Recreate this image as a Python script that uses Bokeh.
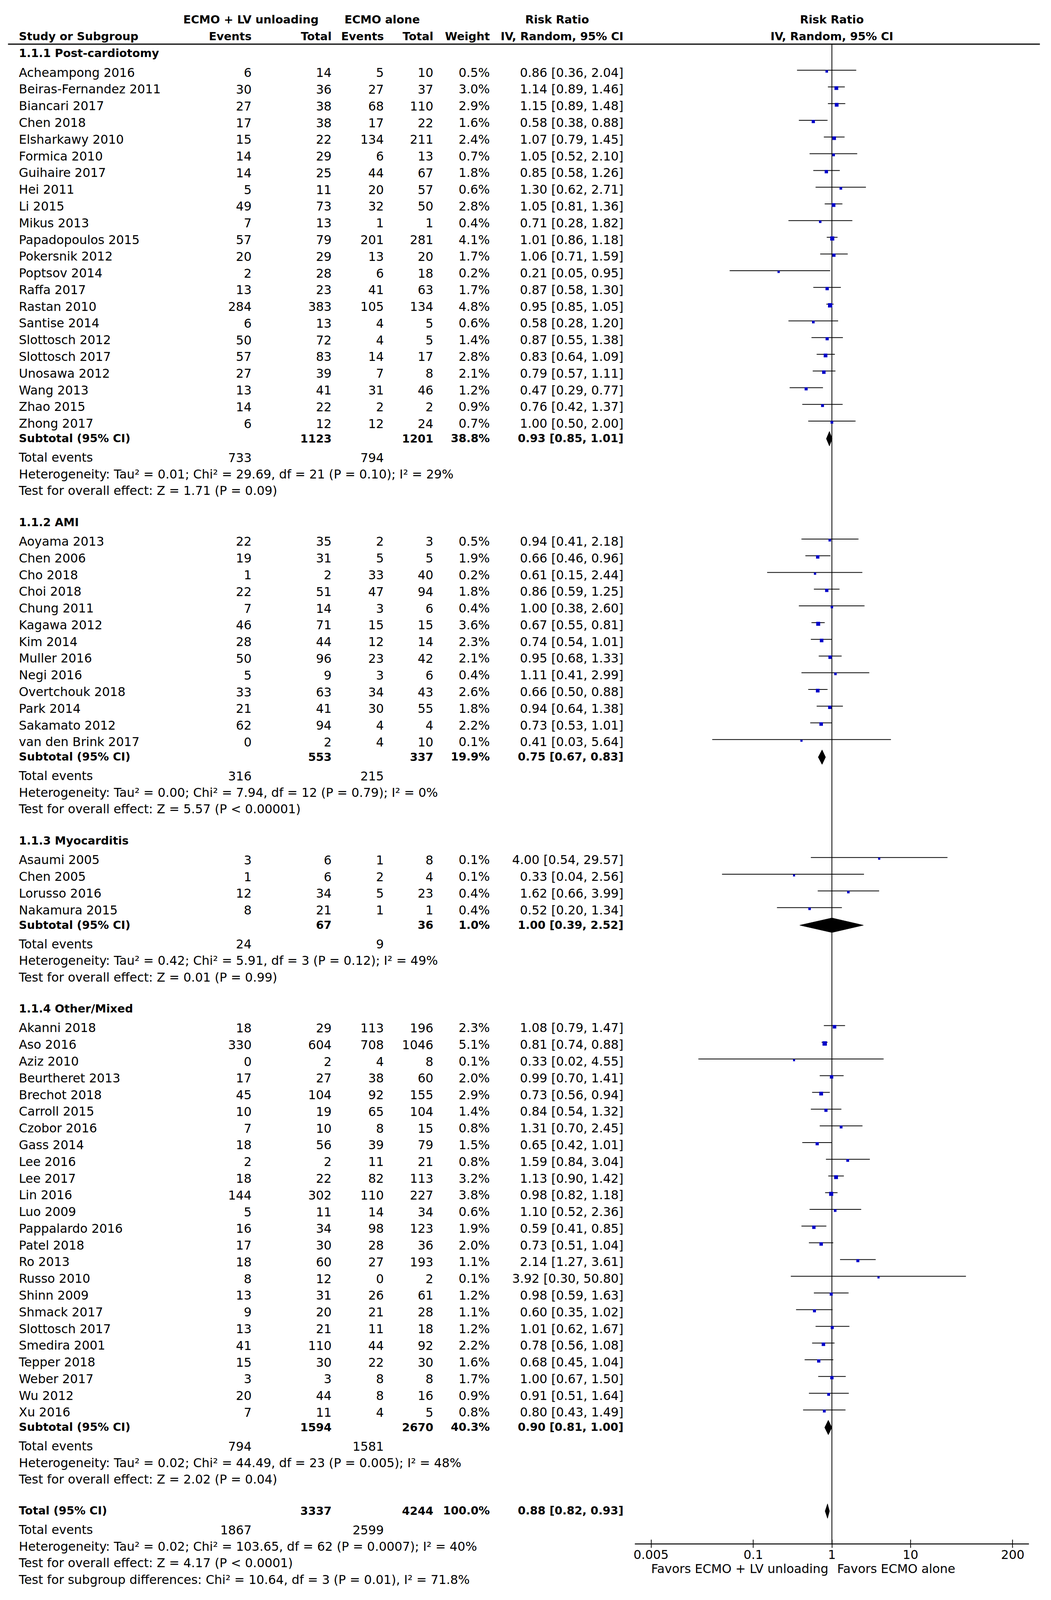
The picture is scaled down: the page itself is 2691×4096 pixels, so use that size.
import math
from bokeh.plotting import figure
from bokeh.models import Range1d, LogScale, LogAxis, FixedTicker, CustomJSTickFormatter
from bokeh.core.properties import value
from bokeh.embed import file_html
from bokeh.resources import INLINE

# ---------------- data ----------------
sec_titles = ["1.1.1 Post-cardiotomy", "1.1.2 AMI", "1.1.3 Myocarditis", "1.1.4 Other/Mixed"]

s1_study = ["Acheampong 2016", "Beiras-Fernandez 2011", "Biancari 2017", "Chen 2018", "Elsharkawy 2010",
            "Formica 2010", "Guihaire 2017", "Hei 2011", "Li 2015", "Mikus 2013", "Papadopoulos 2015",
            "Pokersnik 2012", "Poptsov 2014", "Raffa 2017", "Rastan 2010", "Santise 2014", "Slottosch 2012",
            "Slottosch 2017", "Unosawa 2012", "Wang 2013", "Zhao 2015", "Zhong 2017"]
s1_e1 = [6, 30, 27, 17, 15, 14, 14, 5, 49, 7, 57, 20, 2, 13, 284, 6, 50, 57, 27, 13, 14, 6]
s1_n1 = [14, 36, 38, 38, 22, 29, 25, 11, 73, 13, 79, 29, 28, 23, 383, 13, 72, 83, 39, 41, 22, 12]
s1_e2 = [5, 27, 68, 17, 134, 6, 44, 20, 32, 1, 201, 13, 6, 41, 105, 4, 4, 14, 7, 31, 2, 12]
s1_n2 = [10, 37, 110, 22, 211, 13, 67, 57, 50, 1, 281, 20, 18, 63, 134, 5, 5, 17, 8, 46, 2, 24]
s1_w = [0.5, 3.0, 2.9, 1.6, 2.4, 0.7, 1.8, 0.6, 2.8, 0.4, 4.1, 1.7, 0.2, 1.7, 4.8, 0.6, 1.4, 2.8, 2.1, 1.2, 0.9, 0.7]
s1_rr = [0.86, 1.14, 1.15, 0.58, 1.07, 1.05, 0.85, 1.30, 1.05, 0.71, 1.01, 1.06, 0.21, 0.87, 0.95, 0.58, 0.87, 0.83, 0.79, 0.47, 0.76, 1.00]
s1_lo = [0.36, 0.89, 0.89, 0.38, 0.79, 0.52, 0.58, 0.62, 0.81, 0.28, 0.86, 0.71, 0.05, 0.58, 0.85, 0.28, 0.55, 0.64, 0.57, 0.29, 0.42, 0.50]
s1_hi = [2.04, 1.46, 1.48, 0.88, 1.45, 2.10, 1.26, 2.71, 1.36, 1.82, 1.18, 1.59, 0.95, 1.30, 1.05, 1.20, 1.38, 1.09, 1.11, 0.77, 1.37, 2.00]

s2_study = ["Aoyama 2013", "Chen 2006", "Cho 2018", "Choi 2018", "Chung 2011", "Kagawa 2012", "Kim 2014",
            "Muller 2016", "Negi 2016", "Overtchouk 2018", "Park 2014", "Sakamato 2012", "van den Brink 2017"]
s2_e1 = [22, 19, 1, 22, 7, 46, 28, 50, 5, 33, 21, 62, 0]
s2_n1 = [35, 31, 2, 51, 14, 71, 44, 96, 9, 63, 41, 94, 2]
s2_e2 = [2, 5, 33, 47, 3, 15, 12, 23, 3, 34, 30, 4, 4]
s2_n2 = [3, 5, 40, 94, 6, 15, 14, 42, 6, 43, 55, 4, 10]
s2_w = [0.5, 1.9, 0.2, 1.8, 0.4, 3.6, 2.3, 2.1, 0.4, 2.6, 1.8, 2.2, 0.1]
s2_rr = [0.94, 0.66, 0.61, 0.86, 1.00, 0.67, 0.74, 0.95, 1.11, 0.66, 0.94, 0.73, 0.41]
s2_lo = [0.41, 0.46, 0.15, 0.59, 0.38, 0.55, 0.54, 0.68, 0.41, 0.50, 0.64, 0.53, 0.03]
s2_hi = [2.18, 0.96, 2.44, 1.25, 2.60, 0.81, 1.01, 1.33, 2.99, 0.88, 1.38, 1.01, 5.64]

s3_study = ["Asaumi 2005", "Chen 2005", "Lorusso 2016", "Nakamura 2015"]
s3_e1 = [3, 1, 12, 8]
s3_n1 = [6, 6, 34, 21]
s3_e2 = [1, 2, 5, 1]
s3_n2 = [8, 4, 23, 1]
s3_w = [0.1, 0.1, 0.4, 0.4]
s3_rr = [4.00, 0.33, 1.62, 0.52]
s3_lo = [0.54, 0.04, 0.66, 0.20]
s3_hi = [29.57, 2.56, 3.99, 1.34]

s4_study = ["Akanni 2018", "Aso 2016", "Aziz 2010", "Beurtheret 2013", "Brechot 2018", "Carroll 2015",
            "Czobor 2016", "Gass 2014", "Lee 2016", "Lee 2017", "Lin 2016", "Luo 2009", "Pappalardo 2016",
            "Patel 2018", "Ro 2013", "Russo 2010", "Shinn 2009", "Shmack 2017", "Slottosch 2017",
            "Smedira 2001", "Tepper 2018", "Weber 2017", "Wu 2012", "Xu 2016"]
s4_e1 = [18, 330, 0, 17, 45, 10, 7, 18, 2, 18, 144, 5, 16, 17, 18, 8, 13, 9, 13, 41, 15, 3, 20, 7]
s4_n1 = [29, 604, 2, 27, 104, 19, 10, 56, 2, 22, 302, 11, 34, 30, 60, 12, 31, 20, 21, 110, 30, 3, 44, 11]
s4_e2 = [113, 708, 4, 38, 92, 65, 8, 39, 11, 82, 110, 14, 98, 28, 27, 0, 26, 21, 11, 44, 22, 8, 8, 4]
s4_n2 = [196, 1046, 8, 60, 155, 104, 15, 79, 21, 113, 227, 34, 123, 36, 193, 2, 61, 28, 18, 92, 30, 8, 16, 5]
s4_w = [2.3, 5.1, 0.1, 2.0, 2.9, 1.4, 0.8, 1.5, 0.8, 3.2, 3.8, 0.6, 1.9, 2.0, 1.1, 0.1, 1.2, 1.1, 1.2, 2.2, 1.6, 1.7, 0.9, 0.8]
s4_rr = [1.08, 0.81, 0.33, 0.99, 0.73, 0.84, 1.31, 0.65, 1.59, 1.13, 0.98, 1.10, 0.59, 0.73, 2.14, 3.92, 0.98, 0.60, 1.01, 0.78, 0.68, 1.00, 0.91, 0.80]
s4_lo = [0.79, 0.74, 0.02, 0.70, 0.56, 0.54, 0.70, 0.42, 0.84, 0.90, 0.82, 0.52, 0.41, 0.51, 1.27, 0.30, 0.59, 0.35, 0.62, 0.56, 0.45, 0.67, 0.51, 0.43]
s4_hi = [1.47, 0.88, 4.55, 1.41, 0.94, 1.32, 2.45, 1.01, 3.04, 1.42, 1.18, 2.36, 0.85, 1.04, 3.61, 50.80, 1.63, 1.02, 1.67, 1.08, 1.04, 1.50, 1.64, 1.49]

sub_n1 = [1123, 553, 67, 1594]
sub_n2 = [1201, 337, 36, 2670]
sub_w = [38.8, 19.9, 1.0, 40.3]
sub_rr = [0.93, 0.75, 1.00, 0.90]
sub_lo = [0.85, 0.67, 0.39, 0.81]
sub_hi = [1.01, 0.83, 2.52, 1.00]
sub_ev1 = [733, 316, 24, 794]
sub_ev2 = [794, 215, 9, 1581]
sub_het = ["Heterogeneity: Tau\u00b2 = 0.01; Chi\u00b2 = 29.69, df = 21 (P = 0.10); I\u00b2 = 29%",
           "Heterogeneity: Tau\u00b2 = 0.00; Chi\u00b2 = 7.94, df = 12 (P = 0.79); I\u00b2 = 0%",
           "Heterogeneity: Tau\u00b2 = 0.42; Chi\u00b2 = 5.91, df = 3 (P = 0.12); I\u00b2 = 49%",
           "Heterogeneity: Tau\u00b2 = 0.02; Chi\u00b2 = 44.49, df = 23 (P = 0.005); I\u00b2 = 48%"]
sub_test = ["Test for overall effect: Z = 1.71 (P = 0.09)",
            "Test for overall effect: Z = 5.57 (P < 0.00001)",
            "Test for overall effect: Z = 0.01 (P = 0.99)",
            "Test for overall effect: Z = 2.02 (P = 0.04)"]

tot_n1, tot_n2, tot_w = 3337, 4244, 100.0
tot_rr, tot_lo, tot_hi = 0.88, 0.82, 0.93
tot_ev1, tot_ev2 = 1867, 2599
tot_het = "Heterogeneity: Tau\u00b2 = 0.02; Chi\u00b2 = 103.65, df = 62 (P = 0.0007); I\u00b2 = 40%"
tot_test = "Test for overall effect: Z = 4.17 (P < 0.0001)"
tot_sub = "Test for subgroup differences: Chi\u00b2 = 10.64, df = 3 (P = 0.01), I\u00b2 = 71.8%"

axis_ticks = [0.005, 0.1, 1, 10, 200]
favors_left = "Favors ECMO + LV unloading"
favors_right = "Favors ECMO alone"

# ---------------- layout (page pixels, figure placed at page origin) ----------------
W, H = 2675, 4080
FONT = "DejaVu Sans"
FS_N = "31.5px"
FS_B = "28.8px"

X_STUDY, X_E1, X_N1, X_E2, X_N2, X_W, X_RR = 47.8, 643.7, 848.5, 982.3, 1109.0, 1253.7, 1595.8
X_ONE = 2129.5      # page x of RR = 1
DEC = 201.2         # px per decade
Y_AXIS = 3952.0

texts = {}


def add(x, y, t, align="left", bold=False):
    k = (align, bold)
    texts.setdefault(k, ([], [], []))
    texts[k][0].append(x)
    texts[k][1].append(y)
    texts[k][2].append(t)


def rrtxt(r, l, h):
    return f"{r:.2f} [{l:.2f}, {h:.2f}]"


p = figure(width=W, height=H, x_range=Range1d(0, W), y_range=Range1d(H, 0),
           x_axis_type=None, y_axis_type=None, output_backend="svg", toolbar_location=None,
           min_border=0, outline_line_color=None, background_fill_color="white")
p.extra_x_ranges = {"rr": Range1d(10 ** ((0 - X_ONE) / DEC), 10 ** ((W - X_ONE) / DEC))}
p.extra_x_scales = {"rr": LogScale()}

# headers
add(642, 49.5, "ECMO + LV unloading", "center", True)
add(978, 49.5, "ECMO alone", "center", True)
add(1426, 49.5, "Risk Ratio", "center", True)
add(X_STUDY, 92.8, "Study or Subgroup", "left", True)
add(X_E1, 92.8, "Events", "right", True)
add(X_N1, 92.8, "Total", "right", True)
add(X_E2, 92.8, "Events", "right", True)
add(X_N2, 92.8, "Total", "right", True)
add(X_W, 92.8, "Weight", "right", True)
add(X_RR, 92.8, "IV, Random, 95% CI", "right", True)

p.segment(x0=[20], x1=[2662], y0=[112.5], y1=[112.5], line_color="black", line_width=3)

sections = [
    (s1_study, s1_e1, s1_n1, s1_e2, s1_n2, s1_w, s1_rr, s1_lo, s1_hi),
    (s2_study, s2_e1, s2_n1, s2_e2, s2_n2, s2_w, s2_rr, s2_lo, s2_hi),
    (s3_study, s3_e1, s3_n1, s3_e2, s3_n2, s3_w, s3_rr, s3_lo, s3_hi),
    (s4_study, s4_e1, s4_n1, s4_e2, s4_n2, s4_w, s4_rr, s4_lo, s4_hi),
]
PITCH = 42.78
ci_y, ci_lo, ci_hi, mk_x, mk_y, mk_s = [], [], [], [], [], []
dia_xs, dia_ys = [], []
DH = 37.3


def diamond(r, l, h, yy):
    dia_xs.append([l, r, h, r])
    dia_ys.append([yy, yy - DH / 2, yy, yy + DH / 2])


y = 135.8
for k, (st, e1, n1, e2, n2, w, rr, lo, hi) in enumerate(sections):
    if k > 0:
        y += 80.5
    add(X_STUDY, y, sec_titles[k], "left", True)
    y += 49.4
    for i in range(len(st)):
        if i > 0:
            y += PITCH
        add(X_STUDY, y, st[i])
        add(X_E1, y, str(e1[i]), "right")
        add(X_N1, y, str(n1[i]), "right")
        add(X_E2, y, str(e2[i]), "right")
        add(X_N2, y, str(n2[i]), "right")
        add(X_W, y, f"{w[i]:.1f}%", "right")
        add(X_RR, y, rrtxt(rr[i], lo[i], hi[i]), "right")
        ly = y - 6
        ci_y.append(ly); ci_lo.append(lo[i]); ci_hi.append(hi[i])
        mk_x.append(rr[i]); mk_y.append(ly + 3); mk_s.append(4.5 + 3.0 * math.sqrt(w[i]))
    y += 38
    add(X_STUDY, y, "Subtotal (95% CI)", "left", True)
    add(X_N1, y, str(sub_n1[k]), "right", True)
    add(X_N2, y, str(sub_n2[k]), "right", True)
    add(X_W, y, f"{sub_w[k]:.1f}%", "right", True)
    add(X_RR, y, rrtxt(sub_rr[k], sub_lo[k], sub_hi[k]), "right", True)
    diamond(sub_rr[k], sub_lo[k], sub_hi[k], y + 1)
    y += 49
    add(X_STUDY, y, "Total events")
    add(X_E1, y, str(sub_ev1[k]), "right")
    add(X_E2, y, str(sub_ev2[k]), "right")
    y += 42.5
    add(X_STUDY, y, sub_het[k])
    y += 42.5
    add(X_STUDY, y, sub_test[k])

y += 80
add(X_STUDY, y, "Total (95% CI)", "left", True)
add(X_N1, y, str(tot_n1), "right", True)
add(X_N2, y, str(tot_n2), "right", True)
add(X_W, y, f"{tot_w:.1f}%", "right", True)
add(X_RR, y, rrtxt(tot_rr, tot_lo, tot_hi), "right", True)
diamond(tot_rr, tot_lo, tot_hi, y + 1)
y += 49
add(X_STUDY, y, "Total events")
add(X_E1, y, str(tot_ev1), "right")
add(X_E2, y, str(tot_ev2), "right")
y += 42.5
add(X_STUDY, y, tot_het)
y += 42.5
add(X_STUDY, y, tot_test)
y += 42.5
add(X_STUDY, y, tot_sub)

# forest part
p.segment(x0=[1], x1=[1], y0=[112.5], y1=[Y_AXIS], x_range_name="rr", line_color="black", line_width=2)
p.segment(x0=ci_lo, x1=ci_hi, y0=ci_y, y1=ci_y, x_range_name="rr", line_color="black", line_width=2)
p.scatter(x=mk_x, y=mk_y, size=mk_s, marker="square", x_range_name="rr",
          fill_color="#0000C8", line_color=None)
p.patches(xs=dia_xs, ys=dia_ys, x_range_name="rr", fill_color="black", line_color="black", line_width=1)

# forest header + favors labels (centred on RR = 1)
p.text(x=[1, 1], y=[49.5, 92.8], text=["Risk Ratio", "IV, Random, 95% CI"], x_range_name="rr",
       text_font=value(FONT), text_font_size=FS_B, text_font_style="bold", text_align="center",
       text_baseline="middle", text_color="black")
p.text(x=[1], y=[4015], text=[favors_left], x_range_name="rr", x_offset=-9,
       text_font=value(FONT), text_font_size=FS_N, text_align="right", text_baseline="middle", text_color="black")
p.text(x=[1], y=[4015], text=[favors_right], x_range_name="rr", x_offset=13.5,
       text_font=value(FONT), text_font_size=FS_N, text_align="left", text_baseline="middle", text_color="black")

for (align, bold), (xs, ys, ts) in texts.items():
    p.text(x=xs, y=ys, text=ts, text_font=value(FONT), text_font_size=FS_B if bold else FS_N,
           text_font_style="bold" if bold else "normal", text_align=align, text_baseline="middle",
           text_color="black")

ax = LogAxis(x_range_name="rr", ticker=FixedTicker(ticks=axis_ticks, minor_ticks=[]),
             formatter=CustomJSTickFormatter(code="return String(tick)"),
             bounds=(10 ** -2.509, 10 ** 2.505), fixed_location=Y_AXIS,
             axis_line_width=2.5, axis_line_color="black",
             major_tick_line_width=2, major_tick_line_color="black",
             major_tick_in=11, major_tick_out=10, minor_tick_line_color=None,
             major_label_standoff=5, major_label_text_font=FONT,
             major_label_text_font_size=FS_N, major_label_text_color="black")
p.add_layout(ax, "below")

open("out.html", "w").write(file_html(p, INLINE))
